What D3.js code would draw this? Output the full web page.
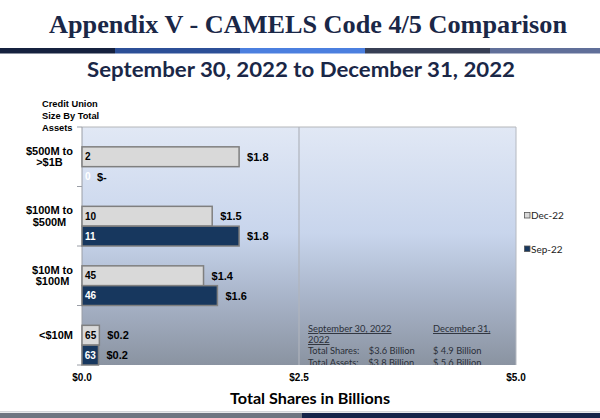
<!DOCTYPE html>
<html><head><meta charset="utf-8">
<script src="https://cdn.jsdelivr.net/npm/d3@7"></script>
<style>body{margin:0;background:#fff;}svg{display:block;} .pre{white-space:pre;}</style>
</head><body><svg id="c" width="600" height="418"></svg>
<script>
const categories = ["$500M to >$1B", "$100M to $500M", "$10M to $100M", "<$10M"];
const categoryLines = [["$500M to", ">$1B"], ["$100M to", "$500M"], ["$10M to", "$100M"], ["<$10M"]];
const seriesNames = ["Dec-22", "Sep-22"];
const decCounts = [2, 10, 45, 65];
const decShares = [1.81, 1.50, 1.40, 0.20];
const sepCounts = [0, 11, 46, 63];
const sepShares = [0, 1.81, 1.56, 0.19];
const xTicks = [0, 2.5, 5.0];
const xTickLabels = ["$0.0", "$2.5", "$5.0"];
const title = "Appendix V - CAMELS Code 4/5 Comparison";
const subtitle = "September 30, 2022 to December 31, 2022";
const axisTitle = "Total Shares in Billions";
const yHeader = ["Credit Union", "Size By Total", "Assets"];
const noteCols = [
  ["September 30, 2022", "2022", "Total Shares:    $3.6 Billion", "Total Assets:    $3.8 Billion"],
  ["December 31,", "", "$ 4.9 Billion", "$ 5.6 Billion"]
];
const topBarColors = ["#15213f", "#2c4f97", "#4b7fdf", "#373f55", "#606f99"];

const svg = d3.select("#c");
const navy = "#1a2747";

// Title
svg.append("text").attr("x", 49).attr("y", 33).attr("textLength", 518).attr("lengthAdjust", "spacingAndGlyphs")
  .attr("font-family", "Liberation Serif").attr("font-weight", "bold").attr("font-size", 26).attr("fill", navy).text(title);

// top color strip
const stripEdges = [0, 115, 240, 365, 490, 600];
topBarColors.forEach((c, i) => {
  svg.append("rect").attr("x", stripEdges[i]).attr("y", 48).attr("width", stripEdges[i + 1] - stripEdges[i]).attr("height", 5.5).attr("fill", c);
});

// Subtitle
svg.append("text").attr("x", 87).attr("y", 77).attr("textLength", 428).attr("lengthAdjust", "spacingAndGlyphs")
  .attr("font-family", "Lato").attr("font-weight", "bold").attr("font-size", 20).attr("fill", navy).text(subtitle);

// plot area
const L = 82, R = 516, T = 127, B = 365;
const x = d3.scaleLinear().domain([0, 5]).range([L, R]);
const y = d3.scaleBand().domain(categories).range([T, B]);
const bw = y.bandwidth();
const ySub = d3.scaleBand().domain(seriesNames).range([bw / 3, bw]);

const defs = svg.append("defs");
const grad = defs.append("linearGradient").attr("id", "bg").attr("x1", 0).attr("y1", 0).attr("x2", 0).attr("y2", 1);
[[0, "#e1e8f5"], [0.45, "#c8d5ec"], [0.7, "#aab6cb"], [1, "#8a93a1"]].forEach(s =>
  grad.append("stop").attr("offset", s[0]).attr("stop-color", s[1]));
defs.append("clipPath").attr("id", "pc").append("rect").attr("x", L).attr("y", T).attr("width", R - L).attr("height", B - T);

svg.append("rect").attr("x", L).attr("y", T).attr("width", R - L).attr("height", B - T).attr("fill", "url(#bg)");
svg.append("line").attr("x1", L).attr("x2", R).attr("y1", T).attr("y2", T).attr("stroke", "#b4b6ba").attr("stroke-width", 1);
svg.append("line").attr("x1", R).attr("x2", R).attr("y1", T).attr("y2", B).attr("stroke", "#b4b8c0").attr("stroke-width", 1);
svg.append("line").attr("x1", x(2.5)).attr("x2", x(2.5)).attr("y1", T).attr("y2", B).attr("stroke", "#b0b4bc").attr("stroke-width", 1.2);

// notes
const notes = svg.append("g").attr("clip-path", "url(#pc)").attr("font-family", "Lato").attr("font-size", 9.3).attr("fill", "#2a2f38");
const noteX = [308, 433];
const noteY = [332, 343, 354, 366];
noteCols.forEach((col, ci) => {
  col.forEach((t, ri) => {
    if (!t) return;
    const tx = notes.append("text").attr("class", "pre").attr("x", noteX[ci]).attr("y", noteY[ri]).text(t);
    if (ri < 2) tx.attr("text-decoration", "underline");
  });
});

// y axis line + ticks
svg.append("line").attr("x1", L).attr("x2", L).attr("y1", T).attr("y2", B).attr("stroke", "#9a9ea6").attr("stroke-width", 1);
const yTicks = categories.map(c => y(c)).concat([B]);
svg.selectAll(".yt").data(yTicks).enter().append("line").attr("x1", L - 5).attr("x2", L).attr("y1", d => d).attr("y2", d => d)
  .attr("stroke", "#9a9ea6").attr("stroke-width", 1);

// bars
const rows = [];
categories.forEach((c, i) => {
  rows.push({cat: c, s: "Dec-22", count: decCounts[i], v: decShares[i]});
  rows.push({cat: c, s: "Sep-22", count: sepCounts[i], v: sepShares[i]});
});
const fills = {"Dec-22": "#d9d9d9", "Sep-22": "#17375e"};
const textFills = {"Dec-22": "#000", "Sep-22": "#fff"};
const gb = svg.append("g");
gb.selectAll("rect").data(rows.filter(d => d.v > 0)).enter().append("rect")
  .attr("x", x(0)).attr("y", d => y(d.cat) + ySub(d.s)).attr("width", d => x(d.v) - x(0)).attr("height", ySub.bandwidth())
  .attr("fill", d => fills[d.s]).attr("stroke", "#7f7f7f").attr("stroke-width", 1.5);
const fmt = d3.format(".1f");
gb.selectAll(".cnt").data(rows).enter().append("text")
  .attr("x", d => (x(d.v) - x(0) < 24 && d.v > 0) ? (x(0) + x(d.v)) / 2 : x(0) + 3)
  .attr("text-anchor", d => (x(d.v) - x(0) < 24 && d.v > 0) ? "middle" : "start")
  .attr("y", d => y(d.cat) + ySub(d.s) + ySub.bandwidth() / 2).attr("dy", "0.36em")
  .attr("font-family", "Liberation Sans").attr("font-weight", "bold").attr("font-size", 10)
  .attr("fill", d => textFills[d.s]).text(d => d.count);
gb.selectAll(".val").data(rows).enter().append("text")
  .attr("x", d => Math.max(x(d.v), x(0) + 7) + 8)
  .attr("y", d => y(d.cat) + ySub(d.s) + ySub.bandwidth() / 2).attr("dy", "0.36em")
  .attr("font-family", "Liberation Sans").attr("font-weight", "bold").attr("font-size", 11)
  .attr("fill", "#000").text(d => d.v > 0 ? "$" + fmt(d.v) : "$-");

// category labels
const gl = svg.append("g").attr("font-family", "Liberation Sans").attr("font-weight", "bold").attr("font-size", 11).attr("fill", "#000");
categories.forEach((c, i) => {
  const lines = categoryLines[i];
  const g = gl.append("g");
  const cy = y(c) + bw / 2;
  const ts = lines.map((ln, j) => g.append("text").attr("y", cy + (j - (lines.length - 1) / 2) * 11.5).attr("dy", "0.36em")
    .attr("text-anchor", "middle").text(ln));
  const w = d3.max(ts, t => t.node().getComputedTextLength());
  ts.forEach(t => t.attr("x", 73 - w / 2));
});

// y header
svg.append("g").selectAll("text").data(yHeader).enter().append("text")
  .attr("x", 42).attr("y", (d, i) => 107 + i * 12).attr("font-family", "Liberation Sans").attr("font-weight", "bold")
  .attr("font-size", 9.3).attr("fill", "#000").text(d => d);

// x tick labels
svg.append("g").selectAll("text").data(xTicks).enter().append("text")
  .attr("x", d => x(d)).attr("y", 381).attr("text-anchor", "middle").attr("font-family", "Liberation Sans")
  .attr("font-weight", "bold").attr("font-size", 10).attr("fill", "#000").text((d, i) => xTickLabels[i]);

// axis title
svg.append("text").attr("x", 230).attr("y", 404).attr("textLength", 160).attr("lengthAdjust", "spacingAndGlyphs")
  .attr("font-family", "Lato").attr("font-weight", "bold").attr("font-size", 16).attr("fill", "#000").text(axisTitle);

// legend
const lg = svg.append("g");
const legY = [215.5, 249];
seriesNames.forEach((s, i) => {
  lg.append("rect").attr("x", 524.5).attr("y", legY[i] - 3).attr("width", 5.5).attr("height", 5.5)
    .attr("fill", fills[s]).attr("stroke", "#555").attr("stroke-width", 0.8);
  lg.append("text").attr("x", 531).attr("y", legY[i]).attr("dy", "0.36em").attr("font-family", "Lato")
    .attr("font-size", 10).attr("fill", "#222").text(s);
});

// bottom strip
svg.append("rect").attr("x", 0).attr("y", 411).attr("width", 600).attr("height", 1.5).attr("fill", "#d4d6da");
svg.append("rect").attr("x", 0).attr("y", 413).attr("width", 302).attr("height", 5).attr("fill", "#6e7581");
svg.append("rect").attr("x", 302).attr("y", 413).attr("width", 298).attr("height", 5).attr("fill", "#15244a");
</script></body></html>
